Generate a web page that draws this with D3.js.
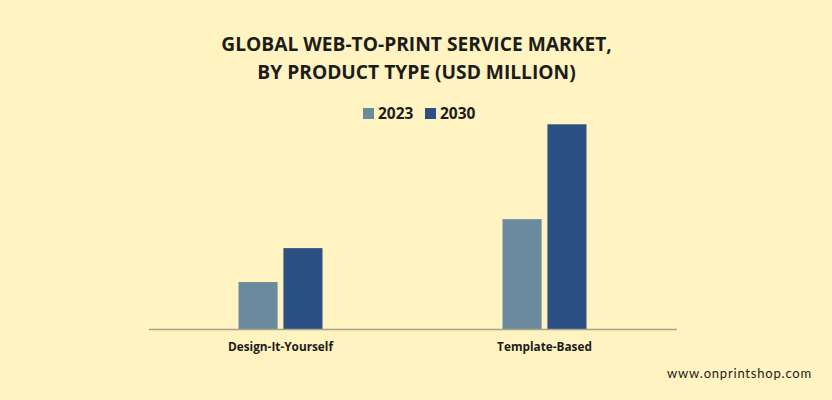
<!DOCTYPE html>
<html>
<head>
<meta charset="utf-8">
<script src="https://cdnjs.cloudflare.com/ajax/libs/d3/7.8.5/d3.min.js"></script>
<style>
  html, body { margin: 0; padding: 0; background: #fef3c1; }
  svg { display: block; }
  text { font-family: "Open Sans", "Noto Sans", sans-serif; fill: #1c1c1a; }
</style>
</head>
<body>
<div id="chart"></div>
<script>
// values, there is no value axis so the units are estimates
var categories = ['Design-It-Yourself', 'Template-Based'];
var years = ['2023', '2030'];
var values2023 = [47, 110];
var values2030 = [81, 205];
var titleLines = ['GLOBAL WEB-TO-PRINT SERVICE MARKET,', 'BY PRODUCT TYPE (USD MILLION)'];
var site = 'www.onprintshop.com';

var width = 832, height = 400;
var colors = d3.scaleOrdinal().domain(years).range(['#6a8b9e', '#2d5084']);

var svg = d3.select('#chart').append('svg')
  .attr('width', width)
  .attr('height', height);

svg.append('rect')
  .attr('width', width)
  .attr('height', height)
  .attr('fill', '#fef3c1');

var x0 = d3.scaleBand().domain(categories).range([148.5, 676.5]);
var x1 = d3.scaleBand().domain(years).range([-42, 42]).paddingInner(0.13);
var y = d3.scaleLinear().domain([0, 205]).range([329, 124.3]);

// bars
var groups = svg.selectAll('g.group')
  .data(categories)
  .enter().append('g')
  .attr('class', 'group')
  .attr('transform', function (d) {
    return 'translate(' + (x0(d) + x0.bandwidth() / 2) + ',0)';
  });

groups.selectAll('rect')
  .data(function (d, i) {
    return [
      { year: '2023', value: values2023[i] },
      { year: '2030', value: values2030[i] }
    ];
  })
  .enter().append('rect')
  .attr('x', function (d) { return x1(d.year); })
  .attr('y', function (d) { return y(d.value); })
  .attr('width', x1.bandwidth())
  .attr('height', function (d) { return y(0) - y(d.value); })
  .attr('fill', function (d) { return colors(d.year); });

// axis
var axis = svg.append('g')
  .attr('transform', 'translate(0,' + y(0) + ')')
  .call(d3.axisBottom(x0).tickSize(0).tickPadding(14));

axis.select('.domain')
  .attr('stroke', '#a9a48b')
  .attr('stroke-width', 1.5);

axis.selectAll('text')
  .attr('font-family', null)
  .style('font-size', '11.8px')
  .style('font-weight', 700);

// title
svg.selectAll('text.title')
  .data(titleLines)
  .enter().append('text')
  .attr('class', 'title')
  .attr('x', 416.5)
  .attr('y', function (d, i) { return 51 + i * 27.5; })
  .attr('text-anchor', 'middle')
  .style('font-size', '19.2px')
  .style('font-weight', 700)
  .text(function (d) { return d; });

// legend
var legendX = d3.scaleOrdinal().domain(years).range([363, 425]);
var legend = svg.selectAll('g.legend')
  .data(years)
  .enter().append('g')
  .attr('class', 'legend')
  .attr('transform', function (d) { return 'translate(' + legendX(d) + ',108)'; });

legend.append('rect')
  .attr('width', 11)
  .attr('height', 11)
  .attr('fill', function (d) { return colors(d); });

legend.append('text')
  .attr('x', 15)
  .attr('y', 10.8)
  .style('font-size', '15.5px')
  .style('font-weight', 700)
  .text(function (d) { return d; });

// watermark
svg.append('text')
  .attr('x', 812)
  .attr('y', 377.5)
  .attr('text-anchor', 'end')
  .style('font-family', 'Lato, sans-serif')
  .style('font-size', '13px')
  .style('letter-spacing', '0.8px')
  .text(site);
</script>
</body>
</html>
